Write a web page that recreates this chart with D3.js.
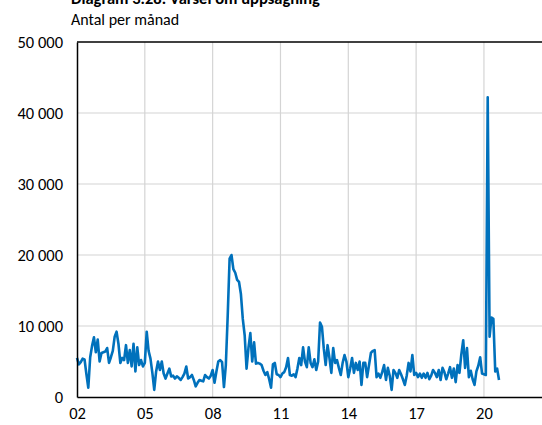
<!DOCTYPE html>
<html lang="sv">
<head>
<meta charset="utf-8">
<script src="https://cdn.jsdelivr.net/npm/d3@7"></script>
<style>
  html, body { margin: 0; padding: 0; background: #fff; }
  svg { display: block; font-family: Carlito, Calibri, Lato, "Liberation Sans", sans-serif; }
</style>
</head>
<body>
<svg id="chart" width="542" height="425"></svg>
<script>
// Varsel om uppsägning, antal per månad, januari 2002 – september 2020
const startYear = 2002;
const varsel = [
  5500, 4600, 4900, 5400, 5300, 3200, 1300, 5600, 7200, 8400, 6300, 8100,   // 2002
  5000, 6200, 6300, 6400, 6900, 4800, 5600, 6500, 8500, 9200, 7500, 4800,   // 2003
  5500, 5200, 7300, 4800, 6600, 4300, 7500, 3600, 7000, 4500, 5200, 4300,   // 2004
  4800, 9200, 6500, 5400, 3400, 1000, 3600, 5000, 3800, 5000, 3300, 2600,   // 2005
  3300, 4000, 2900, 3000, 2600, 2900, 2700, 2400, 2800, 3300, 4300, 2600,   // 2006
  2800, 3100, 2400, 1500, 2000, 2400, 2300, 2200, 3100, 2800, 2600, 3000,   // 2007
  3800, 2000, 3600, 5000, 5200, 4900, 1400, 4500, 11500, 19500, 20000, 18000, // 2008
  17500, 16500, 16200, 14500, 11000, 8700, 4000, 6900, 9000, 5000, 7700, 4700, // 2009
  4800, 4700, 4500, 3700, 3100, 3500, 2500, 1300, 4600, 4800, 3200, 3100,   // 2010
  2800, 3300, 3500, 4200, 5500, 3100, 3000, 3200, 2800, 4000, 5500, 4500,   // 2011
  7000, 5000, 4200, 7000, 4800, 4200, 5300, 3800, 5000, 10500, 9900, 6800,  // 2012
  4500, 7300, 5500, 3400, 6900, 4800, 5200, 4100, 3100, 4800, 5900, 5000,   // 2013
  2800, 4000, 5500, 3400, 4800, 3800, 5000, 1700, 4800, 4800, 2800, 4500,   // 2014
  6200, 6500, 6600, 2800, 3300, 2700, 3500, 4500, 2400, 4100, 3000, 1000,   // 2015
  3800, 3400, 2700, 3800, 3200, 2500, 1700, 3000, 4800, 3600, 5900, 3100,   // 2016
  3400, 2800, 3300, 2700, 3300, 2700, 3400, 2500, 3000, 3800, 3400, 2800,   // 2017
  3800, 2400, 4100, 3500, 2500, 3300, 4200, 2700, 4000, 2100, 4500, 3400,   // 2018
  6000, 8000, 4100, 6900, 2800, 3700, 2500, 1700, 3600, 4400, 5600, 3300,   // 2019
  3200, 3100, 42200, 8500, 11200, 11000, 3600, 4000, 2400                   // 2020
];
const xTickYears = [2002, 2005, 2008, 2011, 2014, 2017, 2020];
const xTickLabels = ["02", "05", "08", "11", "14", "17", "20"];
const yTicks = [0, 10000, 20000, 30000, 40000, 50000];
const yTickLabels = ["0", "10 000", "20 000", "30 000", "40 000", "50 000"];
const titleText = "Diagram 3.28. Varsel om uppsägning";
const unitText = "Antal per månad";

const svg = d3.select("#chart");
const plot = { left: 77, top: 42, bottom: 397, right: 548 };
const lastMonth = 250; // plot area continues past the right page edge

const x = d3.scaleLinear().domain([0, lastMonth]).range([plot.left, plot.right]);
const y = d3.scaleLinear().domain([0, 50000]).range([plot.bottom, plot.top]);
const monthOf = yr => (yr - startYear) * 12;

// grid
const grid = svg.append("g");
grid.selectAll("line.v")
  .data(xTickYears.slice(1))
  .join("line")
  .attr("x1", d => x(monthOf(d))).attr("x2", d => x(monthOf(d)))
  .attr("y1", plot.top).attr("y2", plot.bottom)
  .attr("stroke", "#d4d4d4").attr("stroke-width", 1.2);
grid.selectAll("line.h")
  .data(yTicks.slice(1, -1))
  .join("line")
  .attr("x1", plot.left).attr("x2", plot.right)
  .attr("y1", d => y(d)).attr("y2", d => y(d))
  .attr("stroke", "#d4d4d4").attr("stroke-width", 1.2);

// series
const line = d3.line()
  .x((d, i) => x(i))
  .y(d => y(d));
svg.append("path")
  .datum(varsel)
  .attr("d", line)
  .attr("fill", "none")
  .attr("stroke", "#0071bc")
  .attr("stroke-width", 2.6)
  .attr("stroke-linejoin", "round");

// frame: left, bottom and top edges
svg.append("line")
  .attr("x1", plot.left).attr("x2", plot.right)
  .attr("y1", y(50000)).attr("y2", y(50000))
  .attr("stroke", "#000").attr("stroke-width", 1.3);

const yAxis = d3.axisLeft(y)
  .tickValues(yTicks)
  .tickSize(0)
  .tickPadding(14)
  .tickFormat((d, i) => yTickLabels[i]);
const gy = svg.append("g").attr("transform", `translate(${plot.left},0)`).call(yAxis);
gy.select(".domain").attr("stroke", "#000").attr("stroke-width", 1.5);
gy.selectAll("text").attr("font-size", 16.5).attr("fill", "#000")
  .attr("font-family", "Carlito, Calibri, Lato, sans-serif");

const xAxis = d3.axisBottom(x)
  .tickValues(xTickYears.map(monthOf))
  .tickSize(0)
  .tickPadding(10)
  .tickFormat((d, i) => xTickLabels[i]);
const gx = svg.append("g").attr("transform", `translate(0,${plot.bottom})`).call(xAxis);
gx.select(".domain").attr("stroke", "#000").attr("stroke-width", 1.5);
gx.selectAll("text").attr("font-size", 16.5).attr("fill", "#000")
  .attr("font-family", "Carlito, Calibri, Lato, sans-serif");

// headings
svg.append("text")
  .attr("x", 71).attr("y", 4)
  .attr("font-size", 16.5).attr("font-weight", "bold")
  .text(titleText);
svg.append("text")
  .attr("x", 71).attr("y", 25)
  .attr("font-size", 16)
  .text(unitText);
</script>
</body>
</html>
